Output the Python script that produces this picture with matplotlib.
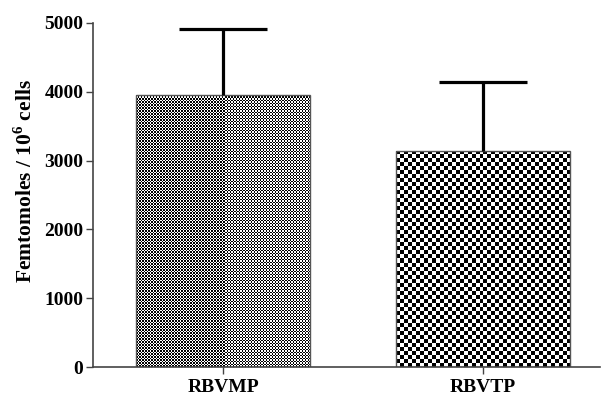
"""
bar chart with checkerboard-filled bars and upper error bars
"""
import matplotlib
matplotlib.use('Agg')
import matplotlib.pyplot as plt
import numpy as np

categories = ['RBVMP', 'RBVTP']
means = [3950, 3140]
err_upper = [970, 1000]
yticks = [0, 1000, 2000, 3000, 4000, 5000]
cell_px = [1.5, 4.0]  # checker cell size in pixels for each bar

plt.rcParams['font.family'] = ['Liberation Serif', 'DejaVu Serif']
plt.rcParams['font.weight'] = 'bold'
plt.rcParams['mathtext.fontset'] = 'custom'
plt.rcParams['mathtext.rm'] = 'Liberation Serif:bold'
plt.rcParams['mathtext.bf'] = 'Liberation Serif:bold'

fig = plt.figure(figsize=(6.03, 3.97), dpi=100)
ax = fig.add_axes([93 / 603, 1 - 367 / 397, 507 / 603, 344 / 397])

x = np.arange(len(categories))
width = 0.67
bars = ax.bar(x, means, width=width, color='white', edgecolor='#555555', linewidth=1.0, zorder=2)

ax.set_xlim(-0.5, 1.45)
ax.set_ylim(0, 5000)
fig.canvas.draw()

# fill each bar with a checkerboard image clipped to the bar
for bar, cpx in zip(bars, cell_px):
    x0, y0 = bar.get_x(), bar.get_y()
    w, h = bar.get_width(), bar.get_height()
    p0 = ax.transData.transform((x0, y0))
    p1 = ax.transData.transform((x0 + w, y0 + h))
    nx = int(round(abs(p1[0] - p0[0]) / cpx))
    ny = int(round(abs(p1[1] - p0[1]) / cpx))
    board = (np.add.outer(np.arange(ny), np.arange(nx)) % 2).astype(float)
    im = ax.imshow(board, cmap='gray', vmin=0, vmax=1, extent=(x0, x0 + w, y0, y0 + h),
                   aspect='auto', interpolation='nearest', zorder=1.5)
    im.set_clip_path(bar)
    bar.set_facecolor('none')

_, caps, _ = ax.errorbar(x, means, yerr=[[0] * len(means), err_upper], fmt='none', ecolor='black',
                         elinewidth=2.3, capsize=32, capthick=2.3, zorder=3)
caps[0].set_visible(False)  # only the upper cap

ax.set_xticks(x)
ax.set_xticklabels(categories, fontsize=14, fontweight='bold')
ax.set_yticks(yticks)
ax.set_yticklabels([str(v) for v in yticks], fontsize=14, fontweight='bold')
ax.set_ylabel('Femtomoles / 10$^{6}$ cells', fontsize=15.5, fontweight='bold')
ax.yaxis.set_label_coords(-0.11, 0.54)

for side in ['top', 'right']:
    ax.spines[side].set_visible(False)
for side in ['left', 'bottom']:
    ax.spines[side].set_color('#444444')
    ax.spines[side].set_linewidth(1.2)
ax.tick_params(axis='y', direction='out', length=5, width=1.0, color='#444444', pad=2)
ax.tick_params(axis='x', direction='out', length=5, width=1.0, color='#444444', pad=4)

plt.savefig('out.png', dpi=100)
